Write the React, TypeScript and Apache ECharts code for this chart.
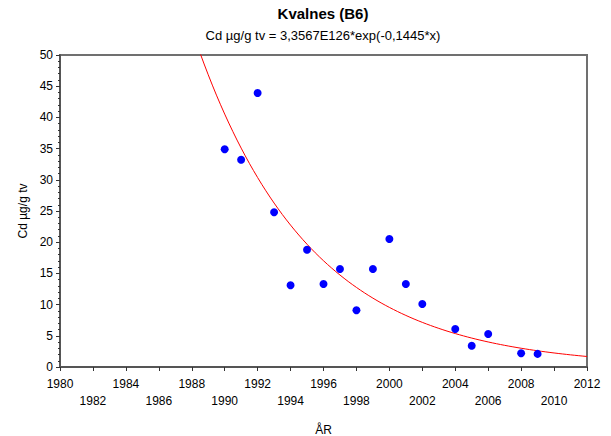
import React, { useEffect, useRef } from "react";
import * as echarts from "echarts";

const years = [1990, 1991, 1992, 1993, 1994, 1995, 1996, 1997, 1998, 1999, 2000, 2001, 2002, 2004, 2005, 2006, 2008, 2009];
const cdValues = [34.9, 33.2, 43.9, 24.8, 13.1, 18.8, 13.3, 15.7, 9.1, 15.7, 20.5, 13.3, 10.1, 6.1, 3.4, 5.3, 2.2, 2.1];

// regression curve constants (from the chart's subtitle equation)
const fitMantissa = 3.3567;
const fitExponent10 = 126;
const fitRate = 0.14454;
const curveYears: number[] = [];
for (let y = 1988; y <= 2012; y += 0.25) curveYears.push(y);

const FONT = "'Liberation Sans', Arial, sans-serif";

export default function App() {
  const ref = useRef<HTMLDivElement>(null);
  useEffect(() => {
    if (!ref.current) return;
    const chart = echarts.init(ref.current, null, { renderer: "svg" });
    const lnA = Math.log(fitMantissa) + fitExponent10 * Math.LN10;
    const curve = curveYears.map((x) => [x, Math.exp(lnA - fitRate * x)]);
    chart.setOption({
      animation: false,
      backgroundColor: "#fff",
      textStyle: { fontFamily: FONT },
      title: [
        {
          text: "Kvalnes (B6)",
          left: 323,
          textAlign: "center",
          top: 5,
          padding: 0,
          textStyle: { fontFamily: FONT, fontSize: 15, fontWeight: "bold", color: "#000", lineHeight: 16 },
        },
        {
          text: "Cd µg/g tv = 3,3567E126*exp(-0,1445*x)",
          left: 323,
          textAlign: "center",
          top: 27,
          padding: 0,
          textStyle: { fontFamily: FONT, fontSize: 13, fontWeight: "normal", color: "#000", lineHeight: 16 },
        },
      ],
      grid: {
        left: 60,
        right: 24,
        top: 55,
        bottom: 69,
        outerBoundsMode: "none",
        containLabel: false,
        show: true,
        borderColor: "#707070",
        borderWidth: 2,
        backgroundColor: "transparent",
      },
      xAxis: {
        type: "value",
        min: 1980,
        max: 2012,
        interval: 2,
        name: "ÅR",
        nameLocation: "middle",
        nameGap: 57,
        nameTextStyle: { fontFamily: FONT, fontSize: 12, color: "#000" },
        axisLine: { show: true, lineStyle: { color: "#555", width: 2 } },
        axisTick: { show: true, length: 4, lineStyle: { color: "#333" } },
        splitLine: { show: false },
        axisLabel: {
          fontFamily: FONT,
          fontSize: 12,
          color: "#000",
          margin: 8,
          lineHeight: 17,
          verticalAlign: "top",
          formatter: (v: number) => (((v - 1980) / 2) % 2 === 1 ? "\n" + v : "" + v),
        },
      },
      yAxis: {
        type: "value",
        min: 0,
        max: 50,
        interval: 5,
        name: "Cd µg/g tv",
        nameLocation: "middle",
        nameGap: 29,
        nameTextStyle: { fontFamily: FONT, fontSize: 12, color: "#000" },
        axisLine: { show: true, lineStyle: { color: "#555", width: 2 } },
        axisTick: { show: true, length: 4, lineStyle: { color: "#333" } },
        minorTick: { show: true, splitNumber: 5, length: 2, lineStyle: { color: "#333" } },
        splitLine: { show: false },
        axisLabel: { fontFamily: FONT, fontSize: 12, color: "#000", margin: 7 },
      },
      series: [
        {
          type: "line",
          data: curve,
          showSymbol: false,
          symbol: "none",
          clip: true,
          lineStyle: { color: "#ff0000", width: 1 },
          z: 2,
        },
        {
          type: "scatter",
          data: years.map((y, i) => [y, cdValues[i]]),
          symbol: "circle",
          symbolSize: 8,
          itemStyle: { color: "#0000ff", opacity: 1 },
          z: 3,
        },
      ],
    });
    return () => chart.dispose();
  }, []);
  return <div ref={ref} style={{ width: 611, height: 436, position: "absolute", left: 0, top: 0 }} />;
}
